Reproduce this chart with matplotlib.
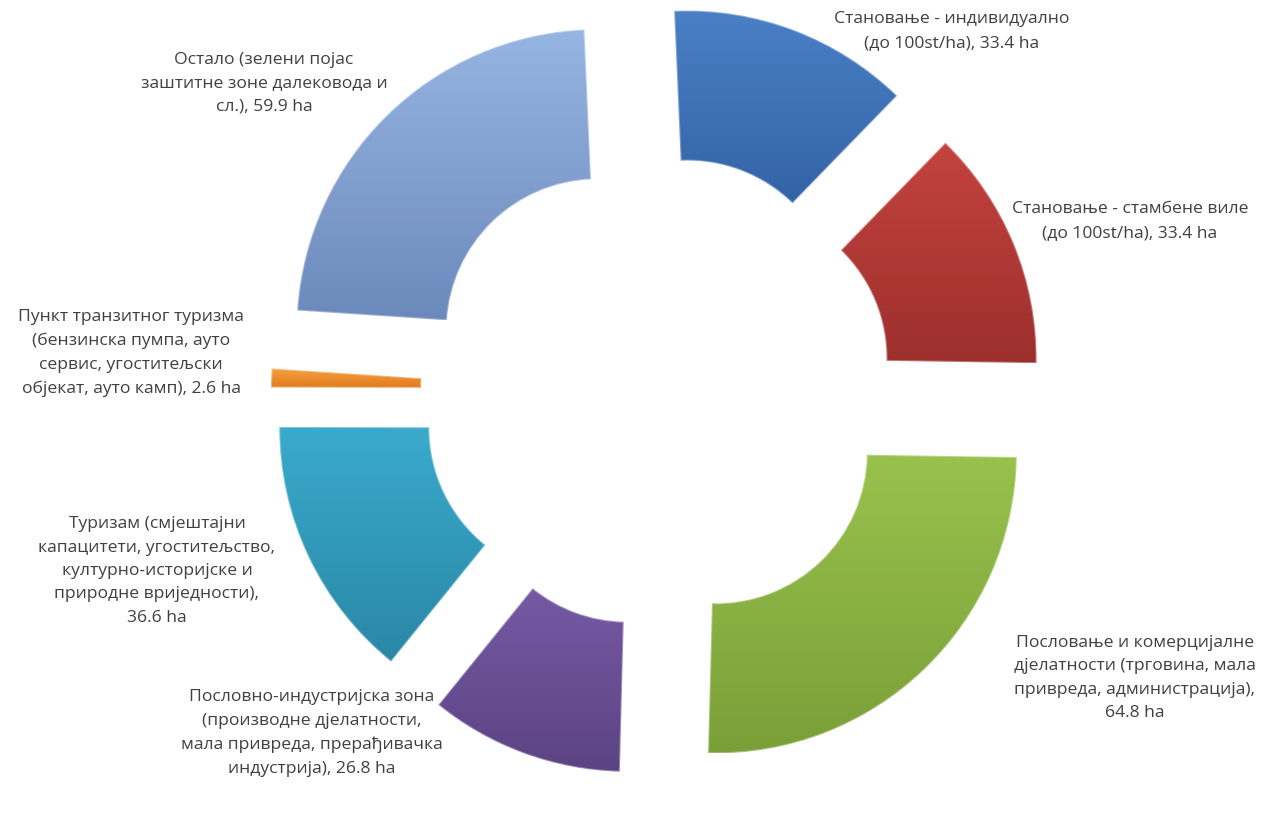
import matplotlib.pyplot as plt
import numpy as np
from matplotlib.colors import LinearSegmentedColormap

# land use categories and areas (ha)
labels = [
    "Становање - индивидуално\n(до 100st/ha), 33.4 ha",
    "Становање - стамбене виле\n(до 100st/ha), 33.4 ha",
    "Пословање и комерцијалне\nдјелатности (трговина, мала\nпривреда, администрација),\n64.8 ha",
    "Пословно-индустријска зона\n(производне дјелатности,\nмала привреда, прерађивачка\nиндустрија), 26.8 ha",
    "Туризам (смјештајни\nкапацитети, угоститељство,\nкултурно-историјске и\nприродне вриједности),\n36.6 ha",
    "Пункт транзитног туризма\n(бензинска пумпа, ауто\nсервис, угоститељски\nобјекат, ауто камп), 2.6 ha",
    "Остало (зелени појас\nзаштитне зоне далековода и\nсл.), 59.9 ha",
]
areas = [33.4, 33.4, 64.8, 26.8, 36.6, 2.6, 59.9]
top_colors = ["#4A80C6", "#C4433F", "#98C24D", "#7659A4", "#3AAACC", "#F7A044", "#97B5E2"]
bottom_colors = ["#3363A6", "#9C2F2C", "#7A9F38", "#5B4383", "#2A87A6", "#E07A1C", "#6C89BC"]

W, H = 1278, 831
fig = plt.figure(figsize=(W / 100, H / 100), dpi=100)
ax = fig.add_axes([0, 0, 1, 1])

cx, cy = 657, H - 391
R = 301
wedges, _ = ax.pie(
    areas,
    radius=R,
    center=(cx, cy),
    startangle=92.5,
    counterclock=False,
    explode=[85] * len(areas),
    wedgeprops=dict(width=150, linewidth=0),
)

# vertical gradient inside every slice, light on top
grad = np.linspace(1, 0, 256).reshape(-1, 1)
for w, c_top, c_bot in zip(wedges, top_colors, bottom_colors):
    bb = w.get_path().get_extents()
    cmap = LinearSegmentedColormap.from_list("g", [c_bot, c_top])
    im = ax.imshow(grad, cmap=cmap, extent=(bb.x0, bb.x1, bb.y0, bb.y1),
                   aspect="auto", zorder=2, interpolation="bicubic")
    im.set_clip_path(w)
    w.set_facecolor("none")
    w.set_edgecolor((1, 1, 1, 0.35))
    w.set_linewidth(1.5)
    w.set_zorder(3)

# label positions (image pixel coords, y from top)
label_pos = [(952, 31), (1130, 221), (1135, 678), (312, 733),
             (157, 571), (131, 353), (264, 83)]
for text, (tx, ty) in zip(labels, label_pos):
    ax.text(tx, H - ty, text, ha="center", va="center", fontsize=12.6,
            family="Open Sans", color="#404040", linespacing=1.62)

ax.set_xlim(0, W)
ax.set_ylim(0, H)
ax.set_aspect("equal")
ax.axis("off")
fig.savefig("out.png", dpi=100)
